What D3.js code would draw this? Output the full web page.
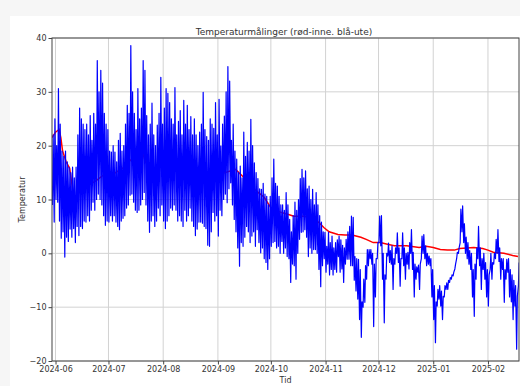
<!DOCTYPE html>
<html>
<head>
<meta charset="utf-8">
<script src="https://cdn.jsdelivr.net/npm/d3@7"></script>
<style>
  html, body { margin: 0; padding: 0; background: #f6f6f6; }
  svg { display: block; }
  text { font-family: "DejaVu Sans", sans-serif; fill: #333; }
</style>
</head>
<body>
<svg id="chart" width="520" height="386"></svg>
<script>
// Outdoor temperature: one daily low and one daily high per day, starting 2024-05-30
const firstDay = "2024-05-30";
const outHigh = [
  22, 25, 20, 30.6, 24, 19, 18, 19, 17, 16,
  15, 16, 14, 16, 22, 27, 25, 24, 23, 24,
  22, 25.6, 21, 26, 24, 35.8, 30, 34, 31.6, 26,
  24, 23, 19, 18.8, 20, 18.8, 17, 21, 22.3, 19,
  20, 24, 27.5, 26, 38.6, 30, 26, 23, 30.6, 25,
  27, 35.8, 34, 25.6, 22, 24, 27.9, 22, 20, 23.8,
  26, 32.7, 24, 27, 30.6, 29.7, 28, 25, 24, 30.8,
  22, 24.5, 26.5, 22, 28.4, 24, 27.5, 23, 25.4, 22,
  25, 22, 20, 22.5, 24, 29.9, 23, 21.7, 21, 25,
  24, 23.2, 28, 22, 28.6, 19.9, 24, 25.5, 30, 34.7,
  32, 21, 24, 19, 17.5, 15, 16.2, 14, 22.5, 18,
  20.6, 19, 24.9, 20, 16.8, 15, 13.9, 12, 11.9, 13,
  11, 10.6, 9, 10.6, 14, 17.5, 13, 12.5, 10.6, 9,
  9, 8, 11.3, 9, 6.3, 4, 7, 9.5, 8, 10,
  13.9, 15.6, 14, 15.3, 12, 12.5, 10, 11.9, 9, 11.3,
  9, 7, 5.8, 4, 3.9, 1.3, 3.9, 2, 3.2, 1,
  2, 2.5, 3.2, 2.5, 1.5, 1, 2.6, 4, 5, 6.9,
  6.7, -0.6, -1, -1.1, -3, -9, -4.8, -2.3, 0.7, 0.7,
  0.7, 0, -2, -1, 2, 6.9, 7, 0, -4, 0,
  1.9, 0.5, 1.4, -1, 1, 3.8, 1, -1, 3.8, 1,
  0, 0.2, 2, 4.4, 0.2, -2, -2.5, -2.2, -2, 3.2,
  3.5, 1.4, 0, -0.5, -1, -3, -6, -9, -6.7, -6,
  -7, -8, -6, -5.5, -5, -4.5, -4, -3.5, -2, 0.2,
  1, 8.2, 8.8, 5.5, 3, 2, 0.5, 0, -3, -2,
  1, 5, 1, -1, 0, -1.7, -3, -4, 0, -1.7,
  0, 2.6, 4.4, 1, -1, -1, -3, -1.1, -1, -3,
  -4, -5, -6, -8, -1.7
];
const outLow = [
  9, 5.8, 10, 9.5, 6, 2.8, 4, -0.7, 3, 2.2,
  4.5, 3, 4.6, 2, 5, 3.3, 5, 4.6, 6, 5.8,
  7, 6, 8, 9.5, 8, 10, 11, 10, 9, 7,
  5.2, 6, 5.8, 7, 6, 7, 5.8, 5, 4.4, 6,
  6.5, 7, 8.4, 9, 10.8, 11, 9.5, 8, 7.6, 8,
  9, 10, 11.3, 9, 6, 3.9, 6, 7, 5, 6,
  8.4, 7, 9, 6, 4.6, 6, 7, 8.4, 8, 9,
  8, 6, 7, 6, 5, 8, 6, 7, 8.4, 6,
  5, 3.3, 4.5, 5.8, 5.8, 5.6, 5, 4.6, 1.5, 1.3,
  4, 7.6, 6, 7, 3.2, 8, 7, 10, 11, 9.4,
  12, 13.1, 9, 6.3, 4, 1, -2.4, 2, 1.3, 3,
  5, 4, 2, 3.2, 4, 1.3, 4.4, 2, 0.1, 1,
  -1, -1.7, -3, -1, 1.3, 2, 2.2, 1, 1.3, 0,
  2.2, 0, 1, -0.6, -1, -5.4, -2, -2.3, -4.8, 0,
  2.6, 3.9, 4, 4.4, 3, -0.6, 1, 0, 0.7, 0.7,
  0, -3, -6.2, -2.3, -1, -3.5, -2, -4, -3, -4,
  -3, -3.5, -0.6, -3.5, -2.9, -5.4, -2, -1.1, -1.1, -2.3,
  -2.3, -5, -7, -8.5, -12.3, -15.6, -10, -9.1, -4.8, -2.3,
  -1, -2, -13.6, -8.1, -1, 2, 1.4, -4.8, -12.9, -4.8,
  -0.5, -1.7, -2, -6.7, -2, 0, -1.7, -6.1, -1, -2.3,
  -4.8, -2, -2.9, 0, -3, -8.1, -4.8, -3.5, -6.7, -1,
  0, -1, -2.3, -2, -2.3, -8.1, -12.3, -16.6, -9.8, -8.5,
  -9.8, -12.3, -8.1, -6.7, -6.7, -5.4, -4.8, -4.2, -2.9, -1,
  0, 2, 4, 2, 0, -1, -2, -3, -8.1, -11.7,
  -4.8, -1, -2.3, -6.7, -3, -4.8, -8.1, -9.8, -3, -4.8,
  -2, -1, 0, -1.5, -4.8, -3, -9.1, -4.8, -3.5, -8.1,
  -9, -12.3, -9.8, -17.8, -6.1
];

// Indoor temperature readings: day offset from firstDay and value
const inDays = [0, 2, 4, 5, 6, 8, 10, 11, 12, 13, 16, 20, 25, 29, 32, 36, 41, 45, 49, 51,
  53, 55, 60, 66, 71, 76, 81, 85, 87, 93, 98, 104, 109, 113, 116, 120, 124, 128, 131, 134,
  137, 143, 147, 151, 154, 157, 162, 166, 170, 175, 178, 182, 186, 190, 194, 201, 208, 212, 216, 220,
  224, 228, 231, 235, 239, 244, 247, 250, 256, 261, 264];
const inTemp = [21.5, 22.5, 23, 21.5, 19, 17, 15.8, 13.5, 11.3, 10.5, 11.5, 12.5, 13.5, 14.5, 14, 15, 16, 17.5, 19.6, 19,
  17, 15.8, 16, 16.5, 16.9, 16, 15, 14.7, 14.3, 14.3, 15, 15.6, 14, 12.5, 11.5, 10.5, 8.5, 7.8, 7.5, 7.2,
  6.9, 6.9, 6.3, 5.8, 4.8, 4, 3.5, 3.4, 3.4, 3, 2.6, 2, 2, 1.7, 1.4, 1.4, 1.1, 1.3, 1.1, 0.7,
  0.6, 0.6, 0.9, 1, 1.1, 0.9, 0.6, 0.2, 0, -0.4, -0.6];

const xTickLabels = ["2024-06", "2024-07", "2024-08", "2024-09", "2024-10", "2024-11", "2024-12", "2025-01", "2025-02"];
const yTicks = [-20, -10, 0, 10, 20, 30, 40];
const xRange = ["2024-05-30T00:00", "2025-02-18T14:00"];

const titleText = "Temperaturmålinger (rød-inne. blå-ute)";
const xLabel = "Tid";
const yLabel = "Temperatur";

const svg = d3.select("#chart");
const W = 520, H = 386;
const m = { left: 52, right: 1, top: 38, bottom: 25 };
const iw = W - m.left - m.right, ih = H - m.top - m.bottom;

// white figure area
svg.append("rect").attr("x", 10).attr("y", 16).attr("width", W - 10).attr("height", H - 16).attr("fill", "#fff");

const parse = d3.timeParse("%Y-%m-%dT%H:%M");
const base = d3.timeParse("%Y-%m-%d")(firstDay);
const dayToDate = d => new Date(base.getTime() + d * 864e5);

const x = d3.scaleTime().domain(xRange.map(parse)).range([0, iw]);
const y = d3.scaleLinear().domain([-20, 40]).range([ih, 0]);

const g = svg.append("g").attr("transform", `translate(${m.left},${m.top})`);

// grid
const xTickDates = xTickLabels.map(d3.timeParse("%Y-%m"));
g.append("g").selectAll("line").data(xTickDates).join("line")
  .attr("x1", d => x(d)).attr("x2", d => x(d)).attr("y1", 0).attr("y2", ih)
  .attr("stroke", "#d2d2d2").attr("stroke-width", 1);
g.append("g").selectAll("line").data(yTicks).join("line")
  .attr("y1", d => y(d)).attr("y2", d => y(d)).attr("x1", 0).attr("x2", iw)
  .attr("stroke", "#d2d2d2").attr("stroke-width", 1);

g.append("clipPath").attr("id", "plotclip").append("rect").attr("width", iw).attr("height", ih);

// indoor series
const inData = inDays.map((d, i) => ({ t: dayToDate(d), v: inTemp[i] }));
// outdoor series: daily low in the early morning, high in the afternoon
const outData = [];
outLow.forEach((lo, i) => {
  outData.push({ t: dayToDate(i + 0.25), v: lo });
  outData.push({ t: dayToDate(i + 0.65), v: outHigh[i] });
});

const line = d3.line().x(d => x(d.t)).y(d => y(d.v));
const plot = g.append("g").attr("clip-path", "url(#plotclip)");
plot.append("path").datum(inData).attr("d", line)
  .attr("fill", "none").attr("stroke", "#ff0000").attr("stroke-width", 1.5);
plot.append("path").datum(outData).attr("d", line)
  .attr("fill", "none").attr("stroke", "#0000ff").attr("stroke-width", 1.2).attr("stroke-linejoin", "round");

// axes
const fmtMinus = v => (v < 0 ? "\u2212" + Math.abs(v) : String(v));
const xAxis = g.append("g").attr("transform", `translate(0,${ih})`)
  .call(d3.axisBottom(x).tickValues(xTickDates).tickFormat((d, i) => xTickLabels[i]).tickSize(3.5).tickPadding(2));
const yAxis = g.append("g")
  .call(d3.axisLeft(y).tickValues(yTicks).tickFormat(fmtMinus).tickSize(3.5).tickPadding(2));
[xAxis, yAxis].forEach(a => {
  a.select(".domain").remove();
  a.selectAll("line").attr("stroke", "#444");
  a.selectAll("text").attr("font-size", 8).attr("fill", "#333").style("font-family", "DejaVu Sans");
});

// spines
g.append("rect").attr("width", iw).attr("height", ih).attr("fill", "none").attr("stroke", "#444").attr("stroke-width", 1);

svg.append("text").attr("x", 284).attr("y", 35).attr("text-anchor", "middle").attr("font-size", 9).text(titleText);
svg.append("text").attr("x", m.left + iw / 2).attr("y", 383).attr("text-anchor", "middle").attr("font-size", 8).text(xLabel);
svg.append("text").attr("transform", `translate(25,${m.top + ih / 2}) rotate(-90)`).attr("text-anchor", "middle").attr("font-size", 8).text(yLabel);
</script>
</body>
</html>
